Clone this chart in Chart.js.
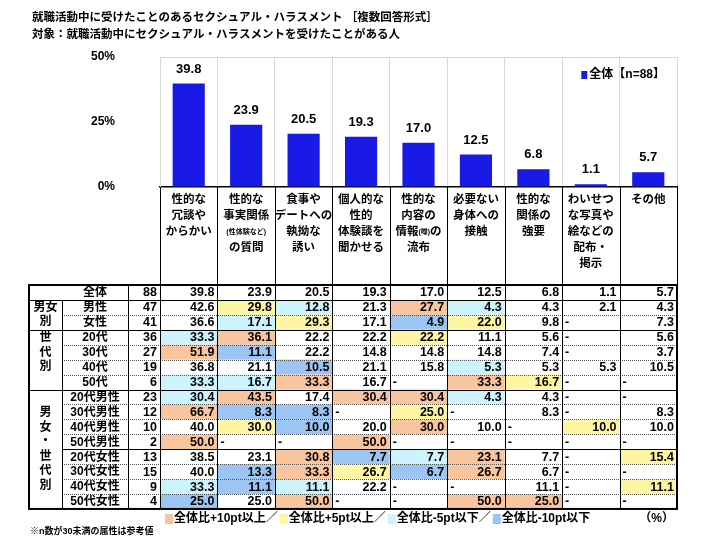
<!DOCTYPE html>
<html><head><meta charset="utf-8">
<script src="https://cdn.jsdelivr.net/npm/chart.js@4.4.1/dist/chart.umd.min.js"></script>
<style>html,body{margin:0;padding:0;background:#fff;}#wrap{width:720px;height:550px;}</style>
</head><body><div id="wrap"><canvas id="c" width="720" height="550"></canvas></div>
<script>
// ---------- data ----------
const titleLines = [
  '就職活動中に受けたことのあるセクシュアル・ハラスメント ［複数回答形式］',
  '対象：就職活動中にセクシュアル・ハラスメントを受けたことがある人'
];
const categories = [
  ['性的な','冗談や','からかい'],
  ['性的な','事実関係','(性体験など)','の質問'],
  ['食事や','デートへの','執拗な','誘い'],
  ['個人的な','性的','体験談を','聞かせる'],
  ['性的な','内容の','情報(噂)の','流布'],
  ['必要ない','身体への','接触'],
  ['性的な','関係の','強要'],
  ['わいせつ','な写真や','絵などの','配布・','掲示'],
  ['その他']
];
const seriesLabel = '全体【n=88】';
const overall   = [39.8, 23.9, 20.5, 19.3, 17.0, 12.5, 6.8, 1.1, 5.7];
const yTicks = [0, 25, 50];

const rowLabels = ['全体','男性','女性','20代','30代','40代','50代','20代男性','30代男性','40代男性','50代男性','20代女性','30代女性','40代女性','50代女性'];
const rowN      = [88, 47, 41, 36, 27, 19, 6, 23, 12, 10, 2, 13, 15, 9, 4];
const male      = [42.6, 29.8, 12.8, 21.3, 27.7, 4.3, 4.3, 2.1, 4.3];
const female    = [36.6, 17.1, 29.3, 17.1, 4.9, 22.0, 9.8, null, 7.3];
const age20     = [33.3, 36.1, 22.2, 22.2, 22.2, 11.1, 5.6, null, 5.6];
const age30     = [51.9, 11.1, 22.2, 14.8, 14.8, 14.8, 7.4, null, 3.7];
const age40     = [36.8, 21.1, 10.5, 21.1, 15.8, 5.3, 5.3, 5.3, 10.5];
const age50     = [33.3, 16.7, 33.3, 16.7, null, 33.3, 16.7, null, null];
const male20    = [30.4, 43.5, 17.4, 30.4, 30.4, 4.3, 4.3, null, null];
const male30    = [66.7, 8.3, 8.3, null, 25.0, null, 8.3, null, 8.3];
const male40    = [40.0, 30.0, 10.0, 20.0, 30.0, 10.0, null, 10.0, 10.0];
const male50    = [50.0, null, null, 50.0, null, null, null, null, null];
const female20  = [38.5, 23.1, 30.8, 7.7, 7.7, 23.1, 7.7, null, 15.4];
const female30  = [40.0, 13.3, 33.3, 26.7, 6.7, 26.7, 6.7, null, null];
const female40  = [33.3, 11.1, 11.1, 22.2, null, null, 11.1, null, 11.1];
const female50  = [25.0, 25.0, 50.0, null, null, 50.0, 25.0, null, null];
const tableRows = [overall, male, female, age20, age30, age40, age50,
  male20, male30, male40, male50, female20, female30, female40, female50];

const groups = [
  { lines: ['男女','別'], from: 1, to: 2 },
  { lines: ['世','代','別',''], from: 3, to: 6 },
  { lines: ['男','女','・','世','代','別'], from: 7, to: 14 }
];
const legendTexts = ['全体比+10pt以上／','全体比+5pt以上／','全体比-5pt以下／','全体比-10pt以下'];
const unitText = '（%）';
const footnote = '※n数が30未満の属性は参考値';

// ---------- styles ----------
const FF = "'Liberation Sans','Noto Sans CJK JP',sans-serif";
const BAR = '#1a1ae6';
const C_OR = '#f9c59f', C_YE = '#fff6a3', C_LB = '#cdf3fd', C_BL = '#9cc5f3';
const hlColors = [C_OR, C_YE, C_LB, C_BL];

function cellColor(v, base) {
  if (v == null) return null;
  const d = Math.round((v - base) * 10) / 10;
  if (d >= 10) return C_OR;
  if (d >= 5) return C_YE;
  if (d <= -10) return C_BL;
  if (d <= -5) return C_LB;
  return null;
}

function drawMixed(ctx, text, cx, cy, size, small) {
  const parts = text.split(/(\([^)]*\))/).filter(s => s.length);
  const fonts = parts.map(p => (p[0] === '(' ? `bold ${small}px ${FF}` : `bold ${size}px ${FF}`));
  let total = 0;
  const widths = parts.map((p, i) => { ctx.font = fonts[i]; const w = ctx.measureText(p).width; total += w; return w; });
  let x = cx - total / 2;
  ctx.textAlign = 'left';
  parts.forEach((p, i) => { ctx.font = fonts[i]; ctx.fillText(p, x, cy); x += widths[i]; });
}

const decor = {
  id: 'decor',
  afterDatasetsDraw(chart) {
    const ctx = chart.ctx;
    const meta = chart.getDatasetMeta(0);
    const ca = chart.chartArea;
    ctx.save();
    ctx.fillStyle = '#000';
    ctx.font = `bold 13px ${FF}`;
    ctx.textAlign = 'center';
    ctx.textBaseline = 'bottom';
    meta.data.forEach((bar, i) => ctx.fillText(overall[i].toFixed(1), bar.x, bar.y - 8));
    // series legend inside the plot, top right
    ctx.font = `bold 12px ${FF}`;
    ctx.textBaseline = 'middle';
    ctx.textAlign = 'right';
    const tx = ca.right - 12, ty = ca.top + 18;
    const tw = ctx.measureText(seriesLabel).width;
    ctx.fillText(seriesLabel, tx, ty);
    ctx.fillStyle = chart.data.datasets[0].backgroundColor;
    ctx.fillRect(tx - tw - 8, ty - 4, 6, 8);
    ctx.restore();
  },
  afterDraw(chart) {
    const ctx = chart.ctx;
    const xs = chart.scales.x;
    const n = categories.length;
    const colW = (xs.right - xs.left) / n;
    const colL = i => xs.left + i * colW;
    const tblLeft = 29, grpRight = 62, lblRight = 128;
    const headTop = xs.top, tableTop = 285, rowH = 14.93;
    const rowY = r => tableTop + r * rowH;
    const tableBottom = rowY(tableRows.length);
    const px = v => Math.round(v) + 0.5;

    ctx.save();
    // titles
    ctx.fillStyle = '#000';
    ctx.textBaseline = 'middle';
    ctx.textAlign = 'left';
    ctx.font = `bold 11.5px ${FF}`;
    ctx.fillText(titleLines[0], 32, 18);
    ctx.fillText(titleLines[1], 32, 35);

    // header texts
    categories.forEach((lines, i) => {
      const cx = colL(i) + colW / 2;
      lines.forEach((ln, k) => drawMixed(ctx, ln, cx, 200 + k * 16, 11.5, 7));
    });

    // cell fills
    tableRows.forEach((row, r) => {
      if (r === 0) return;
      row.forEach((v, i) => {
        const c = cellColor(v, overall[i]);
        if (c) { ctx.fillStyle = c; ctx.fillRect(colL(i), rowY(r), colW, rowH); }
      });
    });

    // header box lines
    ctx.strokeStyle = '#000';
    ctx.lineWidth = 1;
    ctx.beginPath();
    for (let i = 0; i <= n; i++) { ctx.moveTo(px(colL(i)), headTop); ctx.lineTo(px(colL(i)), tableTop); }
    ctx.stroke();

    // dotted row separators
    const solidAfter = [0, 2, 6, 10];
    ctx.save();
    ctx.strokeStyle = '#555';
    ctx.setLineDash([1, 1]);
    ctx.beginPath();
    for (let r = 1; r < tableRows.length; r++) {
      if (solidAfter.includes(r - 1)) continue;
      const y = px(rowY(r));
      ctx.moveTo(grpRight, y); ctx.lineTo(xs.right, y);
    }
    ctx.stroke();
    ctx.restore();

    // solid separators and vertical lines
    ctx.strokeStyle = '#000';
    ctx.beginPath();
    solidAfter.forEach(r => {
      const y = px(rowY(r + 1));
      ctx.moveTo(r === 10 ? grpRight : tblLeft, y); ctx.lineTo(xs.right, y);
    });
    ctx.moveTo(px(grpRight), rowY(1)); ctx.lineTo(px(grpRight), tableBottom);
    ctx.moveTo(px(lblRight), tableTop); ctx.lineTo(px(lblRight), tableBottom);
    for (let i = 0; i < n; i++) { ctx.moveTo(px(colL(i)), tableTop); ctx.lineTo(px(colL(i)), tableBottom); }
    ctx.stroke();
    ctx.lineWidth = 2;
    ctx.strokeRect(tblLeft, tableTop, xs.right - tblLeft, tableBottom - tableTop);

    // row texts
    ctx.fillStyle = '#000';
    ctx.textBaseline = 'middle';
    tableRows.forEach((row, r) => {
      const cy = rowY(r) + rowH / 2 + 0.5;
      ctx.font = `bold 12px ${FF}`;
      ctx.textAlign = 'center';
      ctx.fillText(rowLabels[r], (grpRight + lblRight) / 2, cy);
      ctx.textAlign = 'right';
      ctx.font = `bold 12.5px ${FF}`;
      ctx.fillText(String(rowN[r]), xs.left - 3, cy);
      row.forEach((v, i) => {
        if (v == null) {
          ctx.textAlign = 'left';
          ctx.fillText('-', colL(i) + 3, cy);
        } else {
          ctx.textAlign = 'right';
          ctx.fillText(v.toFixed(1), colL(i + 1) - 3, cy);
        }
      });
    });
    // group labels
    ctx.font = `bold 12px ${FF}`;
    ctx.textAlign = 'center';
    groups.forEach(g => {
      const mid = (rowY(g.from) + rowY(g.to + 1)) / 2;
      const sp = 14.5;
      g.lines.forEach((ln, k) => ctx.fillText(ln, (tblLeft + grpRight) / 2, mid + (k - (g.lines.length - 1) / 2) * sp));
    });

    // colour legend
    let lx = 165;
    const ly = 519;
    ctx.font = `bold 12px ${FF}`;
    ctx.textAlign = 'left';
    legendTexts.forEach((t, k) => {
      ctx.fillStyle = hlColors[k];
      ctx.fillRect(lx, ly - 5, 8, 10);
      ctx.fillStyle = '#000';
      ctx.fillText(t, lx + 9, ly);
      lx += 9 + ctx.measureText(t).width + 2;
    });
    ctx.textAlign = 'right';
    ctx.fillText(unitText, 674, ly);
    ctx.textAlign = 'left';
    ctx.font = `bold 9px ${FF}`;
    ctx.fillText(footnote, 30, 532);
    ctx.restore();
  }
};

new Chart(document.getElementById('c'), {
  type: 'bar',
  data: {
    labels: categories.map(c => c.join('')),
    datasets: [{
      label: seriesLabel,
      data: overall,
      backgroundColor: BAR,
      borderWidth: 0,
      barPercentage: 0.56,
      categoryPercentage: 1
    }]
  },
  options: {
    responsive: false,
    animation: false,
    devicePixelRatio: 1,
    layout: { padding: { left: 0, right: 43, top: 57, bottom: 363 } },
    plugins: {
      title: { display: false },
      tooltip: { enabled: false },
      legend: { display: false }
    },
    scales: {
      x: {
        afterFit(s) { s.height = 0; },
        ticks: { display: false },
        grid: { offset: true, color: '#d9d9d9', drawTicks: false },
        border: { display: true, color: '#000', width: 1.5 }
      },
      y: {
        min: 0, max: 50,
        afterFit(s) { s.width = 160; },
        afterBuildTicks(s) { s.ticks = yTicks.map(v => ({ value: v })); },
        ticks: {
          padding: 45,
          color: '#000',
          font: { family: FF, size: 12, weight: 'bold' },
          callback: v => v + '%'
        },
        grid: {
          drawTicks: false,
          color: c => (c.tick && c.tick.value === 50 ? '#d9d9d9' : 'rgba(0,0,0,0)')
        },
        border: { display: true, color: '#d9d9d9' }
      }
    }
  },
  plugins: [decor]
});
</script></body></html>
